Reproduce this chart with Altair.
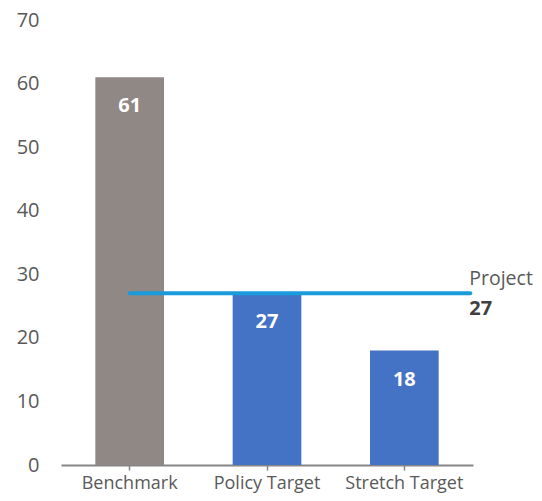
import altair as alt
import pandas as pd

categories = ["Benchmark", "Policy Target", "Stretch Target"]
values = [61, 27, 18]
bar_colors = ["#8f8884", "#4472c4", "#4472c4"]
project_label = "Project"
project_value = 27
line_positions = [0.5, 2.98]
y_ticks = [0, 10, 20, 30, 40, 50, 60, 70]

FONT = "Open Sans"

df = pd.DataFrame({"category": categories, "value": values})
line_df = pd.DataFrame({"pos": line_positions, "value": [project_value] * len(line_positions)})
lab_df = pd.DataFrame({
    "pos": [line_positions[-1]],
    "value": [project_value],
    "name": [project_label],
    "label": [str(project_value)],
})

xcat = alt.X(
    "category:N",
    sort=categories,
    scale=alt.Scale(paddingInner=0.5, paddingOuter=0.25),
    axis=alt.Axis(
        title=None, labelAngle=0, labelFontSize=18, labelFont=FONT, labelColor="#595959",
        domainColor="#868686", domainWidth=2, tickColor="#868686", tickWidth=1.5,
        tickSize=5, labelPadding=4, grid=False, orient="bottom",
    ),
)
y = alt.Y(
    "value:Q",
    scale=alt.Scale(domain=[0, 70], nice=False),
    axis=alt.Axis(
        title=None, values=y_ticks, labelFontSize=20, labelFont=FONT, labelColor="#595959",
        domain=False, ticks=False, grid=False, labelPadding=22,
    ),
)

bars = alt.Chart(df).mark_bar().encode(
    x=xcat,
    y=y,
    color=alt.Color("category:N", scale=alt.Scale(domain=categories, range=bar_colors), legend=None),
)
bar_text = alt.Chart(df).mark_text(
    dy=29, baseline="middle", color="white", fontWeight="bold", fontSize=20, font=FONT
).encode(x=xcat, y="value:Q", text="value:Q")

xq = alt.X("pos:Q", scale=alt.Scale(domain=[0, 3], nice=False, zero=False), axis=None)
line = alt.Chart(line_df).mark_line(color="#1a9bdc", strokeWidth=4, strokeCap="round").encode(
    x=xq, y="value:Q"
)
proj_name = alt.Chart(lab_df).mark_text(
    align="left", baseline="middle", dx=-1, dy=-14, fontSize=19.5, font=FONT, color="#595959"
).encode(x=xq, y="value:Q", text="name:N")
proj_val = alt.Chart(lab_df).mark_text(
    align="left", baseline="middle", dx=-1, dy=16, fontSize=20, font=FONT,
    fontWeight="bold", color="#404040"
).encode(x=xq, y="value:Q", text="label:N")

left = alt.layer(bars, bar_text)
right = alt.layer(line, proj_name, proj_val)

chart = alt.layer(left, right).resolve_scale(x="independent").properties(
    width=412,
    height=445,
    padding={"left": 53, "top": 12, "right": 61, "bottom": 28},
    autosize=alt.AutoSizeParams(type="none"),
).configure_view(stroke=None)

chart.save("out.html", embed_options={"renderer": "svg", "actions": False})
